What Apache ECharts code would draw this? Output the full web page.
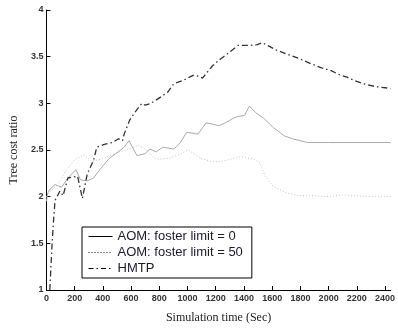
<!DOCTYPE html>
<html><head><meta charset="utf-8">
<script src="https://cdn.jsdelivr.net/npm/echarts@6/dist/echarts.min.js"></script>
<style>html,body{margin:0;padding:0;background:#fff}#c{width:398px;height:329px}</style>
</head><body><div id="c"></div>
<script>
const seriesNames = ['AOM: foster limit = 0', 'AOM: foster limit = 50', 'HMTP'];
const xTickLabels = ['0','200','400','600','800','1000','1200','1400','1600','1800','2000','2200','2400'];
const yTickLabels = ['1','1.5','2','2.5','3','3.5','4'];

const aom0Time = [0,10,25,61,107,152,209,241,289,334,400,446,500,551,585,642,698,733,778,824,903,949,994,1074,1131,1170,1222,1267,1324,1358,1404,1438,1483,1540,1609,1688,1745,1825,1850,2000,2200,2440];
const aom0Vals = [1.95,2.04,2.08,2.13,2.10,2.20,2.29,2.18,2.17,2.20,2.33,2.41,2.47,2.53,2.60,2.44,2.46,2.51,2.48,2.53,2.51,2.58,2.69,2.67,2.79,2.78,2.76,2.79,2.84,2.86,2.87,2.97,2.90,2.84,2.74,2.65,2.62,2.59,2.58,2.58,2.58,2.58];

const aom50Time = [0,30,84,140,196,264,320,380,450,520,600,650,710,778,867,940,1005,1097,1154,1233,1300,1381,1472,1515,1550,1609,1700,1790,1900,2000,2100,2200,2300,2440];
const aom50Vals = [2.0,2.06,2.14,2.28,2.39,2.45,2.38,2.40,2.44,2.48,2.52,2.55,2.50,2.40,2.41,2.45,2.50,2.41,2.38,2.375,2.40,2.43,2.40,2.36,2.22,2.11,2.04,2.01,2.01,2.0,2.02,2.01,2.0,2.0];

const hmtpTime = [24,40,50,61,96,118,152,221,255,289,334,357,410,467,510,540,551,590,640,676,700,740,812,860,903,960,1040,1080,1106,1176,1230,1290,1358,1400,1447,1495,1530,1580,1631,1700,1790,1882,1950,2018,2070,2130,2190,2246,2330,2440];
const hmtpVals = [1.0,1.49,1.73,1.96,2.06,2.01,2.20,2.22,1.98,2.24,2.39,2.53,2.56,2.58,2.62,2.60,2.67,2.82,2.93,3.0,2.98,3.0,3.07,3.12,3.21,3.24,3.30,3.29,3.27,3.40,3.47,3.54,3.62,3.62,3.62,3.63,3.65,3.61,3.57,3.53,3.48,3.42,3.38,3.35,3.31,3.28,3.24,3.21,3.18,3.16];

const zip = (t, v) => t.map((x, i) => [x, v[i]]);
const labelFont = {fontFamily:'Liberation Sans', fontSize:9, fontWeight:'bold', color:'#333'};
const hideSym = {opacity:0, borderWidth:0};

const chart = echarts.init(document.getElementById('c'), null, {renderer:'canvas'});
chart.setOption({
  animation:false,
  backgroundColor:'#fff',
  grid:{left:41, right:0, top:10, bottom:32, containLabel:false},
  xAxis:{type:'value', min:0, max:2440, interval:200,
    name:'Simulation time (Sec)', nameLocation:'middle', nameGap:22,
    nameTextStyle:{fontFamily:'Liberation Serif', fontSize:12, color:'#222'},
    axisLine:{show:true, lineStyle:{color:'#000', width:1}},
    axisTick:{show:true, inside:true, length:4, lineStyle:{color:'#000'}},
    axisLabel:Object.assign({margin:4, showMaxLabel:false, formatter:v => xTickLabels[v/200] || ''}, labelFont),
    splitLine:{show:false}},
  yAxis:{type:'value', min:1, max:4, interval:0.5,
    name:'Tree cost ratio', nameLocation:'middle', nameGap:24,
    nameTextStyle:{fontFamily:'Liberation Serif', fontSize:12, color:'#222'},
    axisLine:{show:true, lineStyle:{color:'#000', width:1}},
    axisTick:{show:true, inside:true, length:4, lineStyle:{color:'#000'}},
    axisLabel:Object.assign({margin:3, formatter:v => yTickLabels[Math.round((v-1)*2)] || ''}, labelFont),
    splitLine:{show:false}},
  legend:{show:true, type:'plain', left:82, top:227, orient:'vertical', backgroundColor:'#fff',
    borderColor:'#000', borderWidth:1, padding:[3,9,3,6],
    itemWidth:24, itemHeight:12, itemGap:3,
    textStyle:{fontFamily:'Liberation Sans', fontSize:13, color:'#1a1a2e'},
    data:[
      {name:seriesNames[0], itemStyle:hideSym, lineStyle:{color:'#000', width:1, type:'solid'}},
      {name:seriesNames[1], itemStyle:hideSym, lineStyle:{color:'#000', width:1, type:[1,2]}},
      {name:seriesNames[2], itemStyle:hideSym, lineStyle:{color:'#000', width:1, type:[5,3,1.5,3]}}
    ]},
  series:[
    {name:seriesNames[0], type:'line', data:zip(aom0Time, aom0Vals), symbol:'none', smooth:false,
      lineStyle:{color:'#aaaaaa', width:1, type:'solid'}, itemStyle:{color:'#aaaaaa'}},
    {name:seriesNames[1], type:'line', data:zip(aom50Time, aom50Vals), symbol:'none',
      lineStyle:{color:'#c4c4c4', width:1, type:[1,2]}, itemStyle:{color:'#c4c4c4'}},
    {name:seriesNames[2], type:'line', data:zip(hmtpTime, hmtpVals), symbol:'none', z:3,
      lineStyle:{color:'#333333', width:1.3, type:[6,3,1.5,3]}, itemStyle:{color:'#333333'}}
  ]
});
</script></body></html>
